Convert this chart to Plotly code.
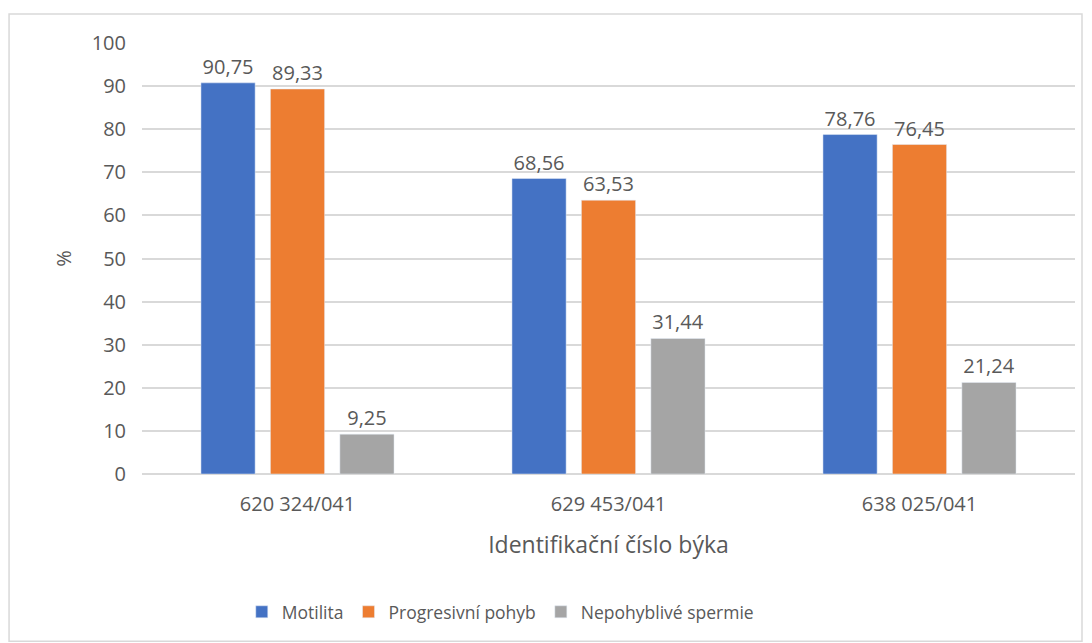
import plotly.graph_objects as go

bulls = ["620 324/041", "629 453/041", "638 025/041"]
motilita = [90.75, 68.56, 78.76]
progresivni = [89.33, 63.53, 76.45]
nepohyblive = [9.25, 31.44, 21.24]

series = [
    ("Motilita", motilita, "#4472C4"),
    ("Progresivní pohyb", progresivni, "#ED7D31"),
    ("Nepohyblivé spermie", nepohyblive, "#A5A5A5"),
]

FONT = "Open Sans, Liberation Sans, sans-serif"
GREY = "#595959"

fig = go.Figure()
for name, vals, color in series:
    fig.add_trace(go.Bar(
        x=bulls, y=vals, name=name, marker_color=color,
        texttemplate="%{y:.2f}", textposition="outside", cliponaxis=False,
        textfont=dict(size=20, color=GREY, family=FONT),
    ))

# chart frame (Excel style)
fig.add_shape(type="rect", xref="paper", yref="paper",
              x0=-0.1425, x1=1.0075, y0=-0.388, y1=1.067,
              line=dict(color="#d9d9d9", width=1.5), fillcolor="rgba(0,0,0,0)")

# page body adds 8px offset, so margins are shifted to compensate
fig.update_layout(
    width=1092, height=643,
    margin=dict(l=134, r=25, t=35, b=177),
    paper_bgcolor="white", plot_bgcolor="white",
    separators=", ",
    barmode="group", bargap=0.33, bargroupgap=0.22,
    font=dict(family=FONT, color=GREY, size=18),
    showlegend=True,
    legend=dict(orientation="h", x=0.384, xanchor="center", y=-0.32, yanchor="middle",
                font=dict(size=17.5, color=GREY), itemwidth=30),
)
fig.update_yaxes(range=[0, 100], dtick=10, showgrid=True, gridcolor="#d9d9d9", gridwidth=1.5,
                 zeroline=True, zerolinecolor="#d9d9d9", zerolinewidth=1.5,
                 tickfont=dict(size=20, color=GREY), ticks="", ticklabelstandoff=15,
                 title=dict(text="%", font=dict(size=20, color=GREY), standoff=14))
fig.update_xaxes(showline=False, ticks="", tickfont=dict(size=20, color=GREY), ticklabelstandoff=16,
                 title=dict(text="Identifikační číslo býka", font=dict(size=23, color=GREY), standoff=20))

fig.write_html("out.html")
